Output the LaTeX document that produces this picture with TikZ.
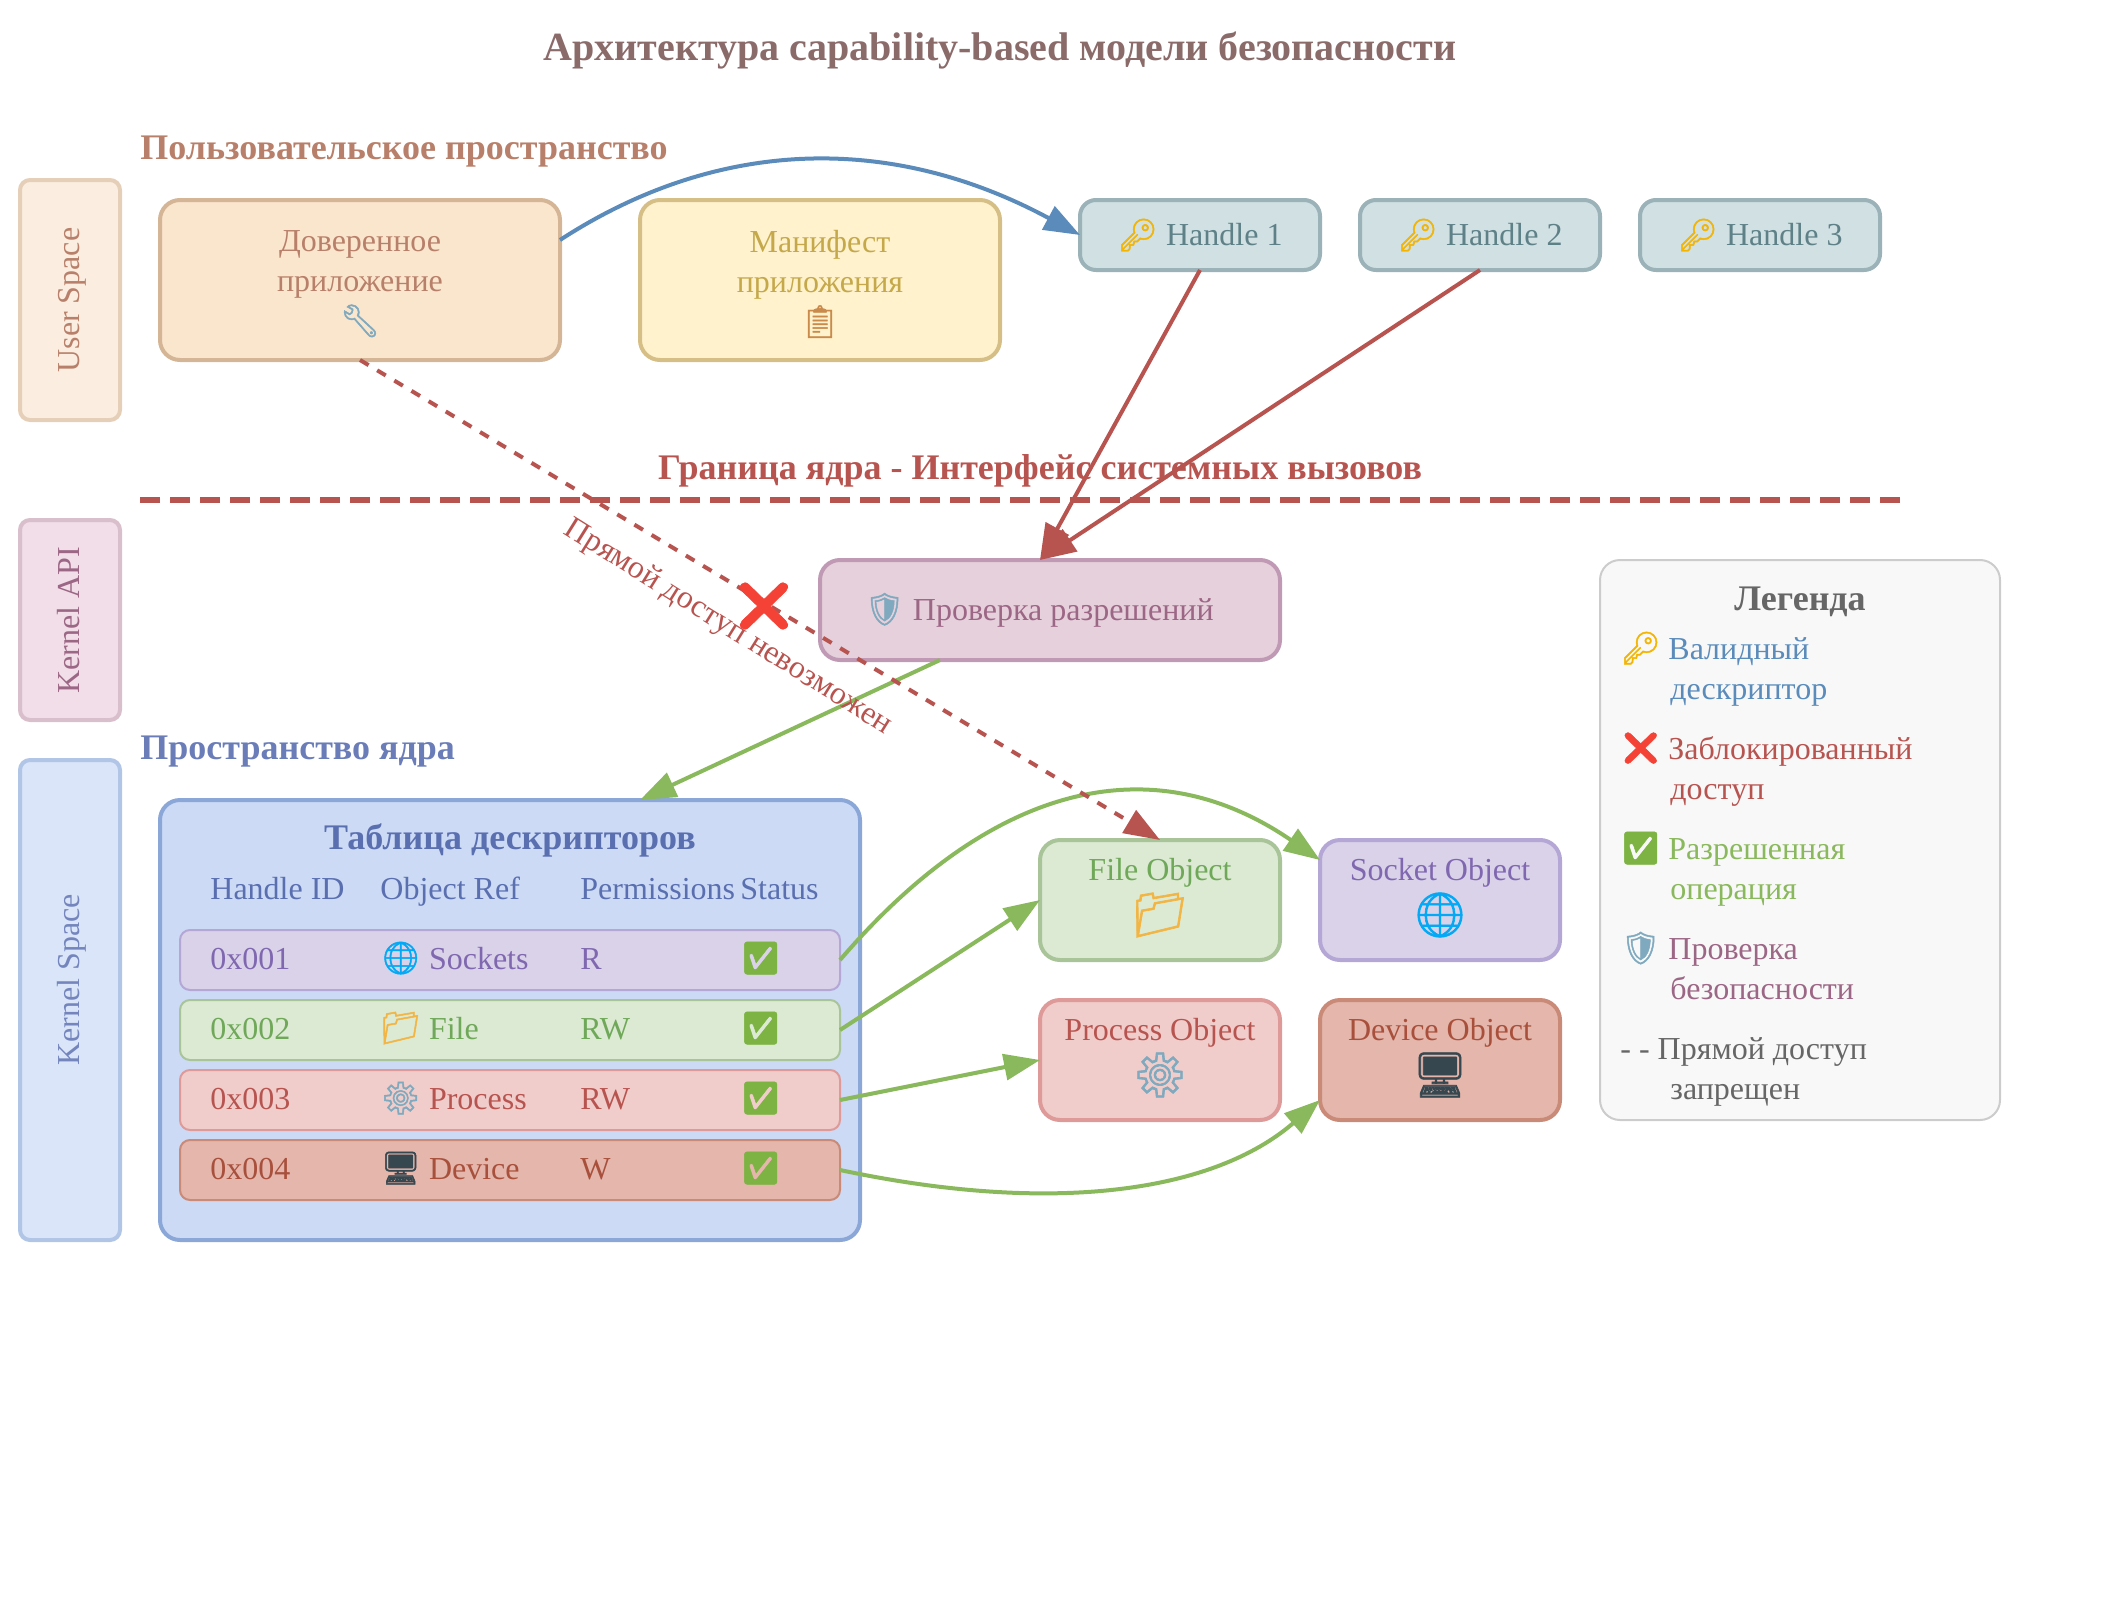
\documentclass[tikz,border=0pt]{standalone}
\usepackage{fontspec}
\usepackage{xcolor}
\usetikzlibrary{arrows.meta}
\setmainfont{Liberation Serif}
\newfontfamily\emojifont[FakeBold=1.5]{Noto Emoji}
\newcommand{\emo}[2]{{\color{#1}\emojifont #2}}
\newcommand{\fs}[1]{\fontsize{#1}{#1}\selectfont}
\definecolor{redline}{HTML}{B85450}
\definecolor{greenline}{HTML}{8AB85C}
\definecolor{blueline}{HTML}{5A8BBB}
\definecolor{titletext}{HTML}{8B6A6A}
\definecolor{sandtext}{HTML}{B8806A}
\definecolor{plumtext}{HTML}{9C6685}
\definecolor{indigotext}{HTML}{5A6FB0}
\definecolor{violettext}{HTML}{8068B0}
\definecolor{leaftext}{HTML}{6FA858}
\definecolor{bricktext}{HTML}{A8503C}
\definecolor{greytext}{HTML}{666666}
\definecolor{manifesttext}{HTML}{C4A84A}
\definecolor{keygold}{HTML}{F4B400}
\definecolor{tickgreen}{HTML}{7CB342}
\definecolor{crossred}{HTML}{F44336}
\definecolor{globeblue}{HTML}{03A9F4}
\definecolor{gearblue}{HTML}{7FA9BE}
\definecolor{foldergold}{HTML}{F2B544}
\definecolor{clipbrown}{HTML}{C98A4B}
\definecolor{screendark}{HTML}{37474F}
\definecolor{laneuser}{HTML}{E6CFB8}
\definecolor{laneuserbg}{HTML}{FBEEE0}
\definecolor{laneapi}{HTML}{D9BECB}
\definecolor{laneapibg}{HTML}{F1DEE8}
\definecolor{lanekernel}{HTML}{B1C5E6}
\definecolor{lanekernelbg}{HTML}{DAE5F9}
\definecolor{appedge}{HTML}{D4B595}
\definecolor{appfill}{HTML}{FAE5CD}
\definecolor{manifestedge}{HTML}{D6BF87}
\definecolor{manifestfill}{HTML}{FFF2CC}
\definecolor{checkedge}{HTML}{C09AB4}
\definecolor{checkfill}{HTML}{E6D0DC}
\definecolor{tableedge}{HTML}{8BA7D8}
\definecolor{tablefill}{HTML}{CCDAF6}
\definecolor{purpleedge}{HTML}{B4A7D6}
\definecolor{purplefill}{HTML}{D9D2E9}
\definecolor{greenedge}{HTML}{A8C498}
\definecolor{greenfill}{HTML}{DCEAD4}
\definecolor{pinkedge}{HTML}{DD9A98}
\definecolor{pinkfill}{HTML}{F0CDCB}
\definecolor{brickedge}{HTML}{C98A78}
\definecolor{brickfill}{HTML}{E4B6AC}
\definecolor{legendedge}{HTML}{CCCCCC}
\definecolor{legendfill}{HTML}{F8F8F8}
\definecolor{HandleEdge}{HTML}{9BB3B8}
\definecolor{HandleFill}{HTML}{D0E0E3}
\definecolor{HandleText}{HTML}{5E8087}
\tikzset{
  box/.style={draw, rounded corners=10pt, line width=2pt, inner sep=0pt, outer sep=0pt},
  lane/.style={box, rounded corners=5pt, minimum width=50pt},
  lanelabel/.style={base, rotate=90},
  handlebox/.style={box, rounded corners=8pt, draw=HandleEdge, fill=HandleFill, text=HandleText,
    minimum width=120pt, minimum height=35pt, font=\fs{16}},
  objbox/.style={box, minimum width=120pt, minimum height=60pt},
  rowbox/.style={box, rounded corners=5pt, line width=1pt, minimum width=330pt, minimum height=30pt},
  base/.style={anchor=base, inner sep=0pt, font=\fs{16}},
  west/.style={anchor=base west, inner sep=0pt, font=\fs{16}},
  arrow/.style={line width=2pt, -{Triangle[length=18pt,width=13pt]}},
}
\begin{document}
\begin{tikzpicture}[x=1pt, y=-1pt]
\useasboundingbox (0,0) rectangle (1060,800);
\node[base, font=\fs{20}\bfseries, text=titletext] (title) at (500,30.5) {Архитектура capability-based модели безопасности};
% lanes on the left
\node[lane, minimum height=120pt, draw=laneuser, fill=laneuserbg] (userlane) at (35,150) {};
\node[lanelabel, text=sandtext] (userlabel) at (39.5,150) {User Space};
\node[lane, minimum height=100pt, draw=laneapi, fill=laneapibg] (apilane) at (35,310) {};
\node[lanelabel, text=plumtext] (apilabel) at (39.5,310) {Kernel API};
\node[lane, minimum height=240pt, draw=lanekernel, fill=lanekernelbg] (kernellane) at (35,500) {};
\node[lanelabel, text=indigotext!85!white] (kernellabel) at (39.5,490) {Kernel Space};
% user space
\node[west, font=\fs{18}\bfseries, text=sandtext] (usertitle) at (70,80) {Пользовательское пространство};
\node[box, minimum width=200pt, minimum height=80pt, draw=appedge, fill=appfill] (trustedapp) at (180,140) {};
\node[align=center, inner sep=0pt, text=sandtext, font=\fs{16}] (trustedlabel) at (180,142)
  {Доверенное\\[4pt]приложение\\[2pt]\emo{gearblue}{🔧}};
\node[box, minimum width=180pt, minimum height=80pt, draw=manifestedge, fill=manifestfill] (manifest) at (410,140) {};
\node[align=center, inner sep=0pt, text=manifesttext, font=\fs{16}] (manifestlabel) at (410,142)
  {Манифест\\[4pt]приложения\\[2pt]\emo{clipbrown}{📋}};
\node[handlebox] (handleone) at (600,117.5) {\emo{keygold}{🔑} Handle 1};
\node[handlebox] (handletwo) at (740,117.5) {\emo{keygold}{🔑} Handle 2};
\node[handlebox] (handlethree) at (880,117.5) {\emo{keygold}{🔑} Handle 3};
% kernel boundary
\node[base, font=\fs{18}\bfseries, text=redline] (boundarytitle) at (520,239.5) {Граница ядра - Интерфейс системных вызовов};
\coordinate (boundleft) at (70,250);
\coordinate (boundright) at (950,250);
\draw[redline, line width=3pt, dash pattern=on 10pt off 5pt] (boundleft) -- (boundright);
% security check
\node[box, minimum width=230pt, minimum height=50pt, draw=checkedge, fill=checkfill] (check) at (525,305) {};
\node[inner sep=0pt, text=plumtext, font=\fs{16}] (checklabel) at (519.5,305) {\emo{gearblue}{🛡} Проверка разрешений};
% descriptor table
\node[west, font=\fs{18}\bfseries, text=indigotext!90!white] (kerneltitle) at (70,379.5) {Пространство ядра};
\node[box, minimum width=350pt, minimum height=220pt, draw=tableedge, fill=tablefill] (table) at (255,510) {};
\node[base, font=\fs{18}\bfseries, text=indigotext] (tabletitle) at (255,424.5) {Таблица дескрипторов};
\node[west, text=indigotext] (headid) at (105,449.5) {Handle ID};
\node[west, text=indigotext] (headref) at (190,449.5) {Object Ref};
\node[west, text=indigotext] (headperm) at (290,449.5) {Permissions};
\node[west, text=indigotext] (headstatus) at (370,449.5) {Status};
\node[rowbox, draw=purpleedge, fill=purplefill] (rowone) at (255,480) {};
\node[rowbox, draw=greenedge, fill=greenfill] (rowtwo) at (255,515) {};
\node[rowbox, draw=pinkedge, fill=pinkfill] (rowthree) at (255,550) {};
\node[rowbox, draw=brickedge, fill=brickfill] (rowfour) at (255,585) {};
\node[west, text=violettext] (idone) at (105,484.5) {0x001};
\node[west, text=violettext] (refone) at (190,484.5) {\emo{globeblue}{🌐} Sockets};
\node[west, text=violettext] (permone) at (290,484.5) {R};
\node[west] (okone) at (370,484.5) {\emo{tickgreen}{✅}};
\node[west, text=leaftext] (idtwo) at (105,519.5) {0x002};
\node[west, text=leaftext] (reftwo) at (190,519.5) {\emo{foldergold}{📁} File};
\node[west, text=leaftext] (permtwo) at (290,519.5) {RW};
\node[west] (oktwo) at (370,519.5) {\emo{tickgreen}{✅}};
\node[west, text=redline] (idthree) at (105,554.5) {0x003};
\node[west, text=redline] (refthree) at (190,554.5) {\emo{gearblue}{⚙} Process};
\node[west, text=redline] (permthree) at (290,554.5) {RW};
\node[west] (okthree) at (370,554.5) {\emo{tickgreen}{✅}};
\node[west, text=bricktext] (idfour) at (105,589.5) {0x004};
\node[west, text=bricktext] (reffour) at (190,589.5) {\emo{screendark}{🖥} Device};
\node[west, text=bricktext] (permfour) at (290,589.5) {W};
\node[west] (okfour) at (370,589.5) {\emo{tickgreen}{✅}};
% kernel objects
\node[objbox, draw=greenedge, fill=greenfill] (fileobj) at (580,450) {};
\node[base, text=leaftext] (filelabel) at (580,440) {File Object};
\node[base, font=\fs{22}] (fileicon) at (580,465) {\emo{foldergold}{📁}};
\node[objbox, draw=purpleedge, fill=purplefill] (socketobj) at (720,450) {};
\node[base, text=violettext] (socketlabel) at (720,440) {Socket Object};
\node[base, font=\fs{22}] (socketicon) at (720,465) {\emo{globeblue}{🌐}};
\node[objbox, draw=pinkedge, fill=pinkfill] (processobj) at (580,530) {};
\node[base, text=redline] (processlabel) at (580,520) {Process Object};
\node[base, font=\fs{22}] (processicon) at (580,545) {\emo{gearblue}{⚙}};
\node[objbox, draw=brickedge, fill=brickfill] (deviceobj) at (720,530) {};
\node[base, text=bricktext] (devicelabel) at (720,520) {Device Object};
\node[base, font=\fs{22}] (deviceicon) at (720,545) {\emo{screendark}{🖥}};
% legend
\node[box, line width=1pt, minimum width=200pt, minimum height=280pt, draw=legendedge, fill=legendfill] (legend) at (900,420) {};
\node[base, font=\fs{18}\bfseries, text=greytext] (legendtitle) at (900,305) {Легенда};
\node[west] (legkey) at (810,329.5) {\emo{keygold}{🔑}};
\node[west, text=blueline] (legkeyone) at (834,329.5) {Валидный};
\node[west, text=blueline] (legkeytwo) at (835,349.5) {дескриптор};
\node[west] (legcross) at (810,379.5) {\emo{crossred}{❌}};
\node[west, text=redline] (legcrossone) at (834,379.5) {Заблокированный};
\node[west, text=redline] (legcrosstwo) at (835,399.5) {доступ};
\node[west] (legtick) at (810,429.5) {\emo{tickgreen}{✅}};
\node[west, text=greenline] (legtickone) at (834,429.5) {Разрешенная};
\node[west, text=greenline] (legticktwo) at (835,449.5) {операция};
\node[west] (legshield) at (810,479.5) {\emo{gearblue}{🛡}};
\node[west, text=plumtext] (legshieldone) at (834,479.5) {Проверка};
\node[west, text=plumtext] (legshieldtwo) at (835,499.5) {безопасности};
\node[west, text=greytext] (legdashone) at (810,529.5) {- - Прямой доступ};
\node[west, text=greytext] (legdashtwo) at (835,549.5) {запрещен};
% connectors
\coordinate (appout) at (280,120);
\coordinate (checkin) at (520,280);
\coordinate (checkout) at (470,330);
\coordinate (tablein) at (320,400);
\coordinate (socketin) at (660,430);
\coordinate (devicein) at (660,550);
\draw[arrow, blueline] (appout) .. controls (360,68) and (446.7,67.2) .. (handleone.west);
\draw[arrow, redline] (handleone.south) -- (checkin);
\draw[arrow, redline] (handletwo.south) -- (checkin);
\draw[arrow, greenline] (checkout) -- (tablein);
\draw[arrow, greenline] (rowone.east) .. controls (497.3,390) and (577.3,373.3) .. (socketin);
\draw[arrow, greenline] (rowtwo.east) -- (fileobj.west);
\draw[arrow, greenline] (rowthree.east) -- (processobj.west);
\draw[arrow, greenline] (rowfour.east) .. controls (526.7,607.7) and (606.7,596) .. (devicein);
\draw[arrow, redline, dash pattern=on 5pt off 5pt] (trustedapp.south) -- (fileobj.north);
\node[base, rotate=-32, text=redline] (blockedlabel) at (362,317) {Прямой доступ невозможен};
\node[font=\fs{24}, inner sep=0pt] (blockedmark) at (382,303) {\emo{crossred}{❌}};
\end{tikzpicture}
\end{document}
